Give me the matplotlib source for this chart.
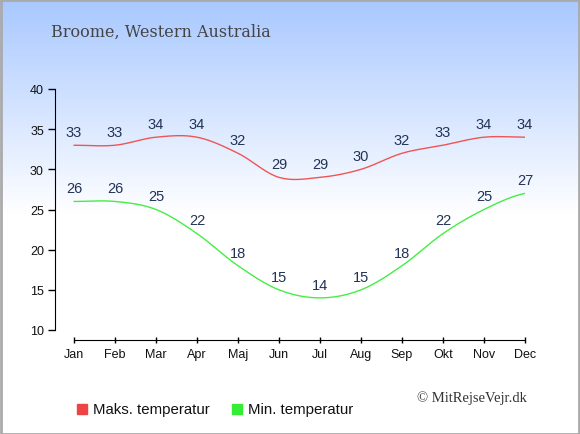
import numpy as np
import matplotlib
matplotlib.use("Agg")
import matplotlib.pyplot as plt
from matplotlib.patches import Rectangle

months = ["Jan", "Feb", "Mar", "Apr", "Maj", "Jun", "Jul", "Aug", "Sep", "Okt", "Nov", "Dec"]
max_temp = [33, 33, 34, 34, 32, 29, 29, 30, 32, 33, 34, 34]
min_temp = [26, 26, 25, 22, 18, 15, 14, 15, 18, 22, 25, 27]
y_ticks = [10, 15, 20, 25, 30, 35, 40]
title = "Broome, Western Australia"
legend_labels = ["Maks. temperatur", "Min. temperatur"]
credit = "\u00a9 MitRejseVejr.dk"

W, H = 580, 435
fig = plt.figure(figsize=(W / 100, H / 100), dpi=100)

# background gradient
bg = fig.add_axes([0, 0, 1, 1], zorder=0)
bg.set_axis_off()
grad = np.ones((H, 1, 3))
top = np.array([0xa8, 0xc8, 0xff]) / 255.0
fade_end = 215
for i in range(H):
    t = min(i / fade_end, 1.0)
    grad[i, 0, :] = top * (1 - t) + np.array([1, 1, 1]) * t
bg.imshow(grad, aspect="auto", extent=[0, 1, 0, 1], origin="upper")
bg.set_xlim(0, 1)
bg.set_ylim(0, 1)
bg.add_patch(Rectangle((0.001, 0.001), 0.998, 0.997, fill=False, edgecolor="#aaaaaa", lw=2, transform=bg.transAxes))

# main axes in pixel layout
left_px, right_px = 55, 525
top_px, bottom_px = 90, 341
ax = fig.add_axes([left_px / W, 1 - bottom_px / H, (right_px - left_px) / W, (bottom_px - top_px) / H], zorder=1)
ax.patch.set_alpha(0)
x = np.arange(len(months))
step = (525 - 74) / 11
ax.set_xlim(-(74 - 55) / step, 11)
px_per_deg = (331 - 90) / 30
ax.set_ylim(10 - (341 - 331) / px_per_deg, 40)


def smooth(xs, ys, n=20):
    xs = np.asarray(xs, float)
    ys = np.asarray(ys, float)
    px = np.concatenate([[2 * xs[0] - xs[1]], xs, [2 * xs[-1] - xs[-2]]])
    py = np.concatenate([[ys[0]], ys, [ys[-1]]])
    ox, oy = [], []
    for i in range(1, len(px) - 2):
        t = np.linspace(0, 1, n, endpoint=False)
        for arr, out in ((px, ox), (py, oy)):
            p0, p1, p2, p3 = arr[i - 1], arr[i], arr[i + 1], arr[i + 2]
            out.extend(0.5 * ((2 * p1) + (-p0 + p2) * t + (2 * p0 - 5 * p1 + 4 * p2 - p3) * t ** 2
                              + (-p0 + 3 * p1 - 3 * p2 + p3) * t ** 3))
    ox.append(xs[-1])
    oy.append(ys[-1])
    return np.array(ox), np.array(oy)


for data, col in ((max_temp, "#ee5555"), (min_temp, "#44ee44")):
    sx, sy = smooth(x, data)
    ax.plot(sx, sy, color=col, lw=1.0, solid_capstyle="round")
    for xi, v in zip(x, data):
        ax.annotate(str(v), (xi, v), xytext=(0, 9.5), textcoords="offset points",
                    ha="center", va="center", fontsize=10.5, color="#223355",
                    family="Liberation Sans")

for s in ("top", "right"):
    ax.spines[s].set_visible(False)
ax.spines["left"].set_bounds(10, 40)
ax.spines["bottom"].set_bounds(0, 11)
ax.spines["left"].set_color("#000000")
ax.spines["bottom"].set_color("#000000")
ax.set_yticks(y_ticks)
ax.set_xticks(x)
ax.set_xticklabels(months)
ax.tick_params(axis="y", direction="out", length=5, width=1, labelsize=9, pad=3, colors="#000000")
ax.tick_params(axis="x", direction="inout", length=5, width=1, labelsize=9, pad=3, colors="#000000")
for lab in ax.get_xticklabels() + ax.get_yticklabels():
    lab.set_family("Liberation Sans")
    lab.set_color("#111111")

# title
fig.text(51 / W, 1 - 32 / H, title, fontsize=11.5, family="DejaVu Serif", color="#444444",
         ha="left", va="center")

# legend
leg_y = 1 - 410 / H
for (xpx, col), lab in zip(((77, "#ee4444"), (232, "#33ee33")), legend_labels):
    fig.patches.append(Rectangle((xpx / W, 1 - 415 / H), 10 / W, 10 / H, color=col,
                                 transform=fig.transFigure, figure=fig, zorder=3))
    fig.text((xpx + 16) / W, leg_y, lab, fontsize=10.8, family="Liberation Sans", color="#111111",
             ha="left", va="center")

fig.text(527 / W, 1 - 398 / H, credit, fontsize=10.5, family="Liberation Serif", color="#333333",
         ha="right", va="center")

fig.savefig("out.png", dpi=100)
